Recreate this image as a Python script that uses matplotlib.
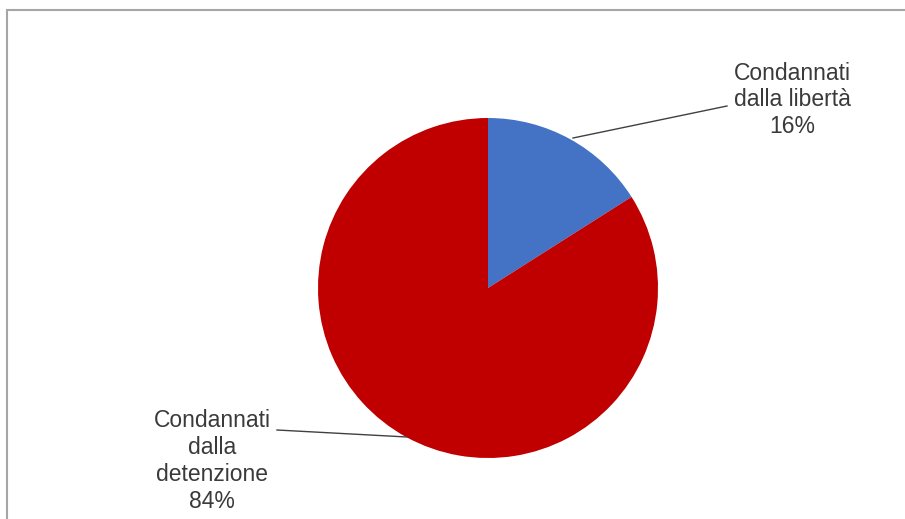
import matplotlib
matplotlib.use("Agg")
import matplotlib.pyplot as plt
from matplotlib.patches import Rectangle

categories = ["Condannati\ndalla libertà", "Condannati\ndalla\ndetenzione"]
values = [16, 84]
colors = ["#4472C4", "#C00000"]

W, H = 905, 519
fig = plt.figure(figsize=(W / 100, H / 100), dpi=100)
ax = fig.add_axes([0, 0, 1, 1])
ax.set_xlim(0, W)
ax.set_ylim(0, H)
ax.set_aspect("equal")
ax.axis("off")

cx, cy, r = 488, H - 288, 170
wedges, _ = ax.pie(values, colors=colors, startangle=90, counterclock=False,
                   center=(cx, cy), radius=r, frame=True,
                   wedgeprops=dict(linewidth=0))
ax.set_xlim(0, W)
ax.set_ylim(0, H)
ax.axis("off")

# border (chart area frame, cropped on right/bottom)
ax.add_patch(Rectangle((7, -20), W + 20, H - 10 + 20, fill=False,
                       edgecolor="#a6a6a6", linewidth=1.5, clip_on=False))

tcol = "#3a3a3a"
fs = 16.5
labels = [f"{c}\n{v}%" for c, v in zip(categories, values)]
ax.text(792, H - 100, labels[0], ha="center", va="center", fontsize=fs,
        family="Liberation Sans", color=tcol, linespacing=1.22)
ax.text(212, H - 461, labels[1], ha="center", va="center", fontsize=fs,
        family="Liberation Sans", color=tcol, linespacing=1.22)

# leader lines
ax.plot([573, 727], [H - 138, H - 106], color="#404040", linewidth=1)
ax.plot([277, 407], [H - 430, H - 437], color="#404040", linewidth=1)

fig.savefig("out.png", dpi=100)
